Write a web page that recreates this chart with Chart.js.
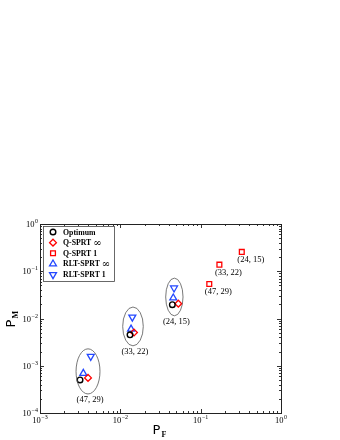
<!DOCTYPE html>
<html>
<head>
<meta charset="utf-8">
<script src="https://cdn.jsdelivr.net/npm/chart.js@4.4.0/dist/chart.umd.min.js"></script>
<style>
  html, body { margin: 0; padding: 0; background: #fff; }
</style>
</head>
<body>
<canvas id="c" width="340" height="440"></canvas>
<script>
// values (P_F, P_M)
const optimumX = [3.15e-3, 1.32e-2, 4.44e-2];
const optimumY = [5.0e-4, 4.52e-3, 1.96e-2];
const qInfX = [3.96e-3, 1.48e-2, 5.27e-2];
const qInfY = [5.53e-4, 5.06e-3, 2.06e-2];
const qOneX = [0.128, 0.171, 0.325];
const qOneY = [0.0538, 0.138, 0.257];
const rltInfX = [3.46e-3, 1.36e-2, 4.56e-2];
const rltInfY = [6.9e-4, 5.97e-3, 2.72e-2];
const rltOneX = [4.28e-3, 1.41e-2, 4.66e-2];
const rltOneY = [1.58e-3, 1.07e-2, 4.43e-2];

const pairLabels = ['(47, 29)', '(33, 22)', '(24, 15)'];
// ellipse bounds around each cluster (data units)
const ellX = [[2.81e-3, 5.58e-3], [1.07e-2, 1.93e-2], [3.67e-2, 6.03e-2]];
const ellY = [[2.53e-4, 2.28e-3], [2.64e-3, 1.75e-2], [1.14e-2, 7.15e-2]];

const xTicks = [1e-3, 1e-2, 1e-1, 1];
const yTicks = [1e-4, 1e-3, 1e-2, 1e-1, 1];

const SERIF = '"Liberation Serif", "DejaVu Serif", serif';
const RED = '#ff0000';
const BLUE = '#2448ff';

function pts(xs, ys) {
  return xs.map((x, i) => ({ x: x, y: ys[i] }));
}

function expOf(v) {
  return String(Math.round(Math.log10(v))).replace('-', '\u2212');
}

function marker(ctx, ds, x, y) {
  ctx.save();
  ctx.strokeStyle = ds.borderColor;
  ctx.fillStyle = 'rgba(0,0,0,0)';
  ctx.lineWidth = ds.borderWidth;
  if (Chart.helpers && Chart.helpers.drawPoint) {
    Chart.helpers.drawPoint(ctx, {
      pointStyle: ds.pointStyle,
      radius: ds.pointRadius,
      borderWidth: ds.borderWidth,
      rotation: ds.rotation || 0
    }, x, y);
  } else {
    ctx.beginPath();
    ctx.arc(x, y, ds.pointRadius, 0, Math.PI * 2);
    ctx.stroke();
  }
  ctx.restore();
}

// "10" with a raised exponent; align: 'center' or 'right'
function powerLabel(ctx, v, x, y, align) {
  ctx.save();
  ctx.fillStyle = '#000';
  ctx.textBaseline = 'middle';
  ctx.textAlign = 'left';
  const base = '10', ex = expOf(v);
  ctx.font = '8.5px ' + SERIF;
  const wb = ctx.measureText(base).width;
  ctx.font = '6px ' + SERIF;
  const we = ctx.measureText(ex).width;
  const w = wb + we + 0.5;
  const x0 = align === 'right' ? x - w : x - w / 2;
  ctx.font = '8.5px ' + SERIF;
  ctx.fillText(base, x0, y);
  ctx.font = '6px ' + SERIF;
  ctx.fillText(ex, x0 + wb + 0.5, y - 3.5);
  ctx.restore();
}

const extras = {
  id: 'extras',
  afterDatasetsDraw(chart) {
    const ctx = chart.ctx;
    const xs = chart.scales.x, ys = chart.scales.y;
    const a = chart.chartArea;

    // ellipses around clusters + their labels
    ctx.save();
    ctx.strokeStyle = '#555';
    ctx.lineWidth = 0.8;
    ctx.fillStyle = '#000';
    ctx.font = '8.5px ' + SERIF;
    ctx.textAlign = 'center';
    ctx.textBaseline = 'top';
    ellX.forEach((ex, i) => {
      const x0 = xs.getPixelForValue(ex[0]), x1 = xs.getPixelForValue(ex[1]);
      const y0 = ys.getPixelForValue(ellY[i][1]), y1 = ys.getPixelForValue(ellY[i][0]);
      ctx.beginPath();
      ctx.ellipse((x0 + x1) / 2, (y0 + y1) / 2, (x1 - x0) / 2, (y1 - y0) / 2, 0, 0, Math.PI * 2);
      ctx.stroke();
      ctx.fillText(pairLabels[i], (x0 + x1) / 2 + 2, y1 + 2);
    });
    // labels next to Q-SPRT 1 points
    qOneX.forEach((x, i) => {
      const px = xs.getPixelForValue(x), py = ys.getPixelForValue(qOneY[i]);
      ctx.fillText(pairLabels[i], px + 9, py + 4);
    });
    ctx.restore();

    // inward ticks on all four sides
    ctx.save();
    ctx.strokeStyle = '#000';
    ctx.lineWidth = 0.8;
    ctx.beginPath();
    const decades = (scale) => {
      const out = [];
      const lo = Math.round(Math.log10(scale.min)), hi = Math.round(Math.log10(scale.max));
      for (let e = lo; e <= hi; e++) {
        for (let k = 1; k <= 9; k++) {
          const v = k * Math.pow(10, e);
          if (v <= scale.max * 1.0001) out.push({ v: v, major: k === 1 });
        }
      }
      return out;
    };
    decades(xs).forEach(t => {
      const px = Math.round(xs.getPixelForValue(t.v)) + 0.5;
      const len = t.major ? 4 : 2;
      ctx.moveTo(px, a.bottom); ctx.lineTo(px, a.bottom - len);
      ctx.moveTo(px, a.top); ctx.lineTo(px, a.top + len);
    });
    decades(ys).forEach(t => {
      const py = Math.round(ys.getPixelForValue(t.v)) + 0.5;
      const len = t.major ? 4 : 2;
      ctx.moveTo(a.left, py); ctx.lineTo(a.left + len, py);
      ctx.moveTo(a.right, py); ctx.lineTo(a.right - len, py);
    });
    ctx.stroke();
    // frame
    ctx.strokeStyle = '#222';
    ctx.lineWidth = 1;
    ctx.strokeRect(Math.round(a.left) + 0.5, Math.round(a.top) + 0.5,
      Math.round(a.right - a.left), Math.round(a.bottom - a.top));
    ctx.restore();

    // tick labels from the scales' own ticks
    xs.ticks.forEach(t => powerLabel(ctx, t.value, xs.getPixelForValue(t.value), a.bottom + 8, 'center'));
    ys.ticks.forEach(t => powerLabel(ctx, t.value, a.left - 2, ys.getPixelForValue(t.value) + 1, 'right'));

    // legend box
    ctx.save();
    const lx = a.left + 3, ly = a.top + 2, lw = 71, lh = 55;
    ctx.fillStyle = '#fff';
    ctx.fillRect(lx, ly, lw, lh);
    ctx.strokeStyle = '#444';
    ctx.lineWidth = 0.8;
    ctx.strokeRect(lx + 0.5, ly + 0.5, lw, lh);
    ctx.textAlign = 'left';
    ctx.textBaseline = 'middle';
    chart.data.datasets.forEach((ds, i) => {
      const y = ly + 6 + i * 10.65;
      marker(ctx, ds, lx + 10, y);
      ctx.fillStyle = '#000';
      const parts = ds.label.split('\u221E');
      ctx.font = 'bold 7.8px ' + SERIF;
      ctx.fillText(parts[0], lx + 20, y + 0.5);
      if (parts.length > 1) {
        const w = ctx.measureText(parts[0]).width;
        ctx.font = '10px "DejaVu Serif", serif';
        ctx.fillText('\u221E', lx + 20 + w, y + 0.5);
      }
    });
    ctx.restore();

    // axis titles P_F and P_M
    ctx.save();
    ctx.fillStyle = '#000';
    ctx.textBaseline = 'alphabetic';
    const cx = (a.left + a.right) / 2;
    ctx.font = '13px "DejaVu Sans", sans-serif';
    ctx.fillText('P', cx - 8, 434);
    ctx.font = 'bold 8px ' + SERIF;
    ctx.fillText('F', cx + 1, 437);
    ctx.translate(15, (a.top + a.bottom) / 2);
    ctx.rotate(-Math.PI / 2);
    ctx.font = '13px "DejaVu Sans", sans-serif';
    ctx.fillText('P', -9, 0);
    ctx.font = 'bold 8px ' + SERIF;
    ctx.fillText('M', 0, 3);
    ctx.restore();
  }
};

new Chart(document.getElementById('c'), {
  type: 'scatter',
  data: {
    datasets: [
      { label: 'Optimum', data: pts(optimumX, optimumY), pointStyle: 'circle', pointRadius: 2.8,
        borderColor: '#000', backgroundColor: 'rgba(0,0,0,0)', borderWidth: 1.4 },
      { label: 'Q-SPRT \u221E', data: pts(qInfX, qInfY), pointStyle: 'rectRot', pointRadius: 3.4,
        borderColor: RED, backgroundColor: 'rgba(0,0,0,0)', borderWidth: 1.3 },
      { label: 'Q-SPRT 1', data: pts(qOneX, qOneY), pointStyle: 'rect', pointRadius: 3.4,
        borderColor: RED, backgroundColor: 'rgba(0,0,0,0)', borderWidth: 1.3 },
      { label: 'RLT-SPRT \u221E', data: pts(rltInfX, rltInfY), pointStyle: 'triangle', pointRadius: 4,
        borderColor: BLUE, backgroundColor: 'rgba(0,0,0,0)', borderWidth: 1.3 },
      { label: 'RLT-SPRT 1', data: pts(rltOneX, rltOneY), pointStyle: 'triangle', rotation: 180, pointRadius: 4,
        borderColor: BLUE, backgroundColor: 'rgba(0,0,0,0)', borderWidth: 1.3 }
    ]
  },
  options: {
    responsive: false,
    animation: false,
    layout: { padding: { top: 224, right: 59, left: 0, bottom: 0 } },
    plugins: {
      legend: { display: false },
      tooltip: { enabled: false }
    },
    scales: {
      x: {
        type: 'logarithmic',
        min: 1e-3,
        max: 1,
        grid: { display: false, drawTicks: false },
        border: { display: false },
        afterBuildTicks: s => { s.ticks = xTicks.map(v => ({ value: v })); },
        afterFit: s => { s.height = 27; },
        ticks: { display: false }
      },
      y: {
        type: 'logarithmic',
        min: 1e-4,
        max: 1,
        grid: { display: false, drawTicks: false },
        border: { display: false },
        afterBuildTicks: s => { s.ticks = yTicks.map(v => ({ value: v })); },
        afterFit: s => { s.width = 40; },
        ticks: { display: false }
      }
    }
  },
  plugins: [extras]
});
</script>
</body>
</html>
